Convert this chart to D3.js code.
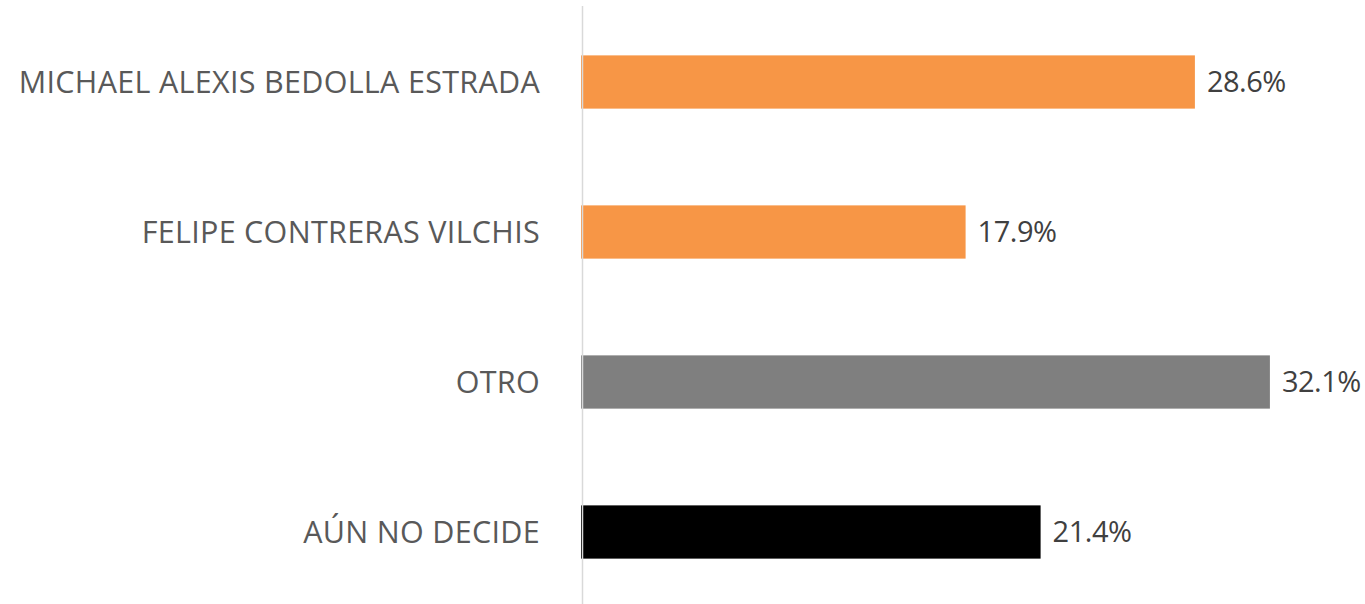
<!DOCTYPE html>
<html>
<head>
<meta charset="utf-8">
<script src="https://cdn.jsdelivr.net/npm/d3@7"></script>
<style>
  body { margin: 0; background: #fff; }
  svg { display: block; font-family: "Open Sans", Lato, sans-serif; }
</style>
</head>
<body>
<section></section>
<script>
const WIDTH = 1365;
const HEIGHT = 604;

const categories = ["MICHAEL ALEXIS BEDOLLA ESTRADA", "FELIPE CONTRERAS VILCHIS", "OTRO", "AÚN NO DECIDE"];
const values = [28.6, 17.9, 32.1, 21.4];
const valueLabels = ["28.6%", "17.9%", "32.1%", "21.4%"];
const colors = ["#f79646", "#f79646", "#7f7f7f", "#000000"];

// plot area
const X0 = 582;
const TOP = 6;
const BOTTOM = 604;

const data = categories.map((c, i) => ({ cat: c, v: values[i], label: valueLabels[i], color: colors[i] }));

const svg = d3.select("section")
  .append("svg")
  .attr("width", WIDTH)
  .attr("height", HEIGHT);

const xScale = d3.scaleLinear()
  .domain([0, 32.1])
  .range([X0, X0 + 32.1 * 21.43]);

const yScale = d3.scaleBand()
  .domain(categories)
  .range([7, 607])
  .paddingInner(0.645)
  .paddingOuter(0.3225);

svg.selectAll("rect.bar")
  .data(data)
  .enter()
  .append("rect")
  .attr("class", "bar")
  .attr("x", xScale(0) - 1)
  .attr("y", d => yScale(d.cat))
  .attr("width", d => xScale(d.v) - xScale(0) + 1)
  .attr("height", yScale.bandwidth())
  .attr("fill", d => d.color);

// axis line
svg.append("line")
  .attr("x1", X0 + 0.5)
  .attr("x2", X0 + 0.5)
  .attr("y1", TOP)
  .attr("y2", BOTTOM)
  .attr("stroke", "#d9d9d9")
  .attr("stroke-width", 1.5);

// category labels
svg.selectAll("text.cat")
  .data(data)
  .enter()
  .append("text")
  .attr("class", "cat")
  .attr("x", 540)
  .attr("y", d => yScale(d.cat) + yScale.bandwidth() / 2)
  .attr("dy", "0.36em")
  .attr("text-anchor", "end")
  .attr("fill", "#595959")
  .attr("font-size", "30.5px")
  .attr("letter-spacing", "0.3px")
  .text(d => d.cat);

// value labels
svg.selectAll("text.val")
  .data(data)
  .enter()
  .append("text")
  .attr("class", "val")
  .attr("x", d => xScale(d.v) + 12)
  .attr("y", d => yScale(d.cat) + yScale.bandwidth() / 2)
  .attr("dy", "0.36em")
  .attr("fill", "#404040")
  .attr("font-size", "29px")
  .attr("letter-spacing", "-0.5px")
  .text(d => d.label);
</script>
</body>
</html>
